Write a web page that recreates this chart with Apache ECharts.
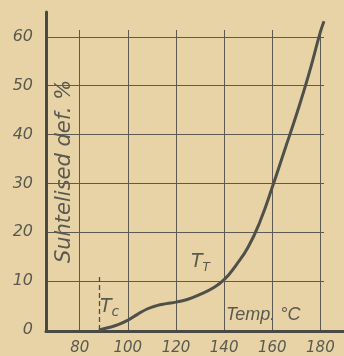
<!DOCTYPE html>
<html><head><meta charset="utf-8">
<script src="https://cdn.jsdelivr.net/npm/echarts@6/dist/echarts.min.js"></script>
<style>html,body{margin:0;padding:0;background:#e8d3a6}#c{width:344px;height:356px}</style>
</head><body><div id="c"></div>
<script>
// Data
const temps = [88, 92, 96, 100, 104, 108, 112, 116, 120, 125, 130, 135, 140, 145, 150, 155, 160, 165, 170, 175, 180, 181.5];
const defs  = [0, 0.5, 1.1, 2.0, 3.2, 4.3, 5.0, 5.4, 5.7, 6.3, 7.3, 8.5, 10.3, 13.3, 17.0, 22.3, 29.2, 36.6, 44.0, 52.0, 61.0, 63.2];
const xTicks = [80, 100, 120, 140, 160, 180];
const yTicks = [0, 10, 20, 30, 40, 50, 60];
const tcTemp = [88];
const tcTop = [11.4];

const ink = '#5a5950';
const gridInk = '#5d5a51';
const font = 'DejaVu Sans';

const chart = echarts.init(document.getElementById('c'), null, {renderer: 'canvas'});
chart.setOption({
  backgroundColor: '#e8d3a6',
  animation: false,
  grid: [
    {left: 46, right: 20, top: 30, bottom: 25},
    {left: 46, right: 0, top: 12, bottom: 25}
  ],
  xAxis: [
    {
      gridIndex: 0, type: 'value', min: 66, max: 181.5,
      axisLine: {show: false},
      axisTick: {show: false, customValues: xTicks},
      axisLabel: {customValues: xTicks, margin: 11, color: ink, fontSize: 15, fontStyle: 'italic', fontFamily: font},
      splitLine: {show: true, lineStyle: {color: gridInk, width: 1}}
    },
    {
      gridIndex: 1, type: 'value', min: 0, max: 1,
      axisLine: {show: true, onZero: false, lineStyle: {color: '#4a4944', width: 3}},
      axisTick: {show: false}, axisLabel: {show: false}, splitLine: {show: false}
    }
  ],
  yAxis: [
    {
      gridIndex: 0, type: 'value', min: 0, max: 61.4,
      axisLine: {show: false},
      axisTick: {show: false, customValues: yTicks},
      axisLabel: {customValues: yTicks, margin: 13, color: ink, fontSize: 16, fontStyle: 'italic', fontFamily: font},
      splitLine: {show: true, lineStyle: {color: gridInk, width: 1}}
    },
    {
      gridIndex: 1, type: 'value', min: 0, max: 1,
      axisLine: {show: true, onZero: false, lineStyle: {color: '#4a4944', width: 3}},
      axisTick: {show: false}, axisLabel: {show: false}, splitLine: {show: false},
      name: 'Suhtelised def. %', nameLocation: 'middle', nameRotate: 90, nameGap: -29,
      nameTextStyle: {color: ink, fontSize: 21, fontStyle: 'italic', fontFamily: font}
    }
  ],
  series: [
    {
      type: 'line', xAxisIndex: 0, yAxisIndex: 0,
      data: temps.map((t, i) => [t, defs[i]]),
      smooth: 0.5, symbol: 'none', clip: false,
      lineStyle: {color: '#50504b', width: 3},
      markLine: {
        silent: true, symbol: 'none', label: {show: false},
        lineStyle: {color: '#4f4d46', width: 1.3, type: [5, 3]},
        data: [[{coord: [tcTemp[0], 0]}, {coord: [tcTemp[0], tcTop[0]]}]]
      }
    }
  ],
  graphic: [
    {type: 'text', left: 100, top: 298, style: {
      text: '{a|T}{b|c}', fill: ink,
      rich: {a: {fontSize: 19, fontStyle: 'italic', fontFamily: font, fill: ink},
             b: {fontSize: 14, fontStyle: 'italic', fontFamily: font, fill: ink, padding: [10, 0, 0, 0]}}
    }},
    {type: 'text', left: 191, top: 253, style: {
      text: '{a|T}{b|T}', fill: ink,
      rich: {a: {fontSize: 19, fontStyle: 'italic', fontFamily: font, fill: ink},
             b: {fontSize: 12, fontStyle: 'italic', fontFamily: font, fill: ink, padding: [10, 0, 0, 0]}}
    }},
    {type: 'text', left: 226, top: 306, style: {
      text: 'Temp. °C', fill: ink, fontSize: 18, fontStyle: 'italic', fontFamily: 'Liberation Sans'
    }}
  ]
});
</script></body></html>
